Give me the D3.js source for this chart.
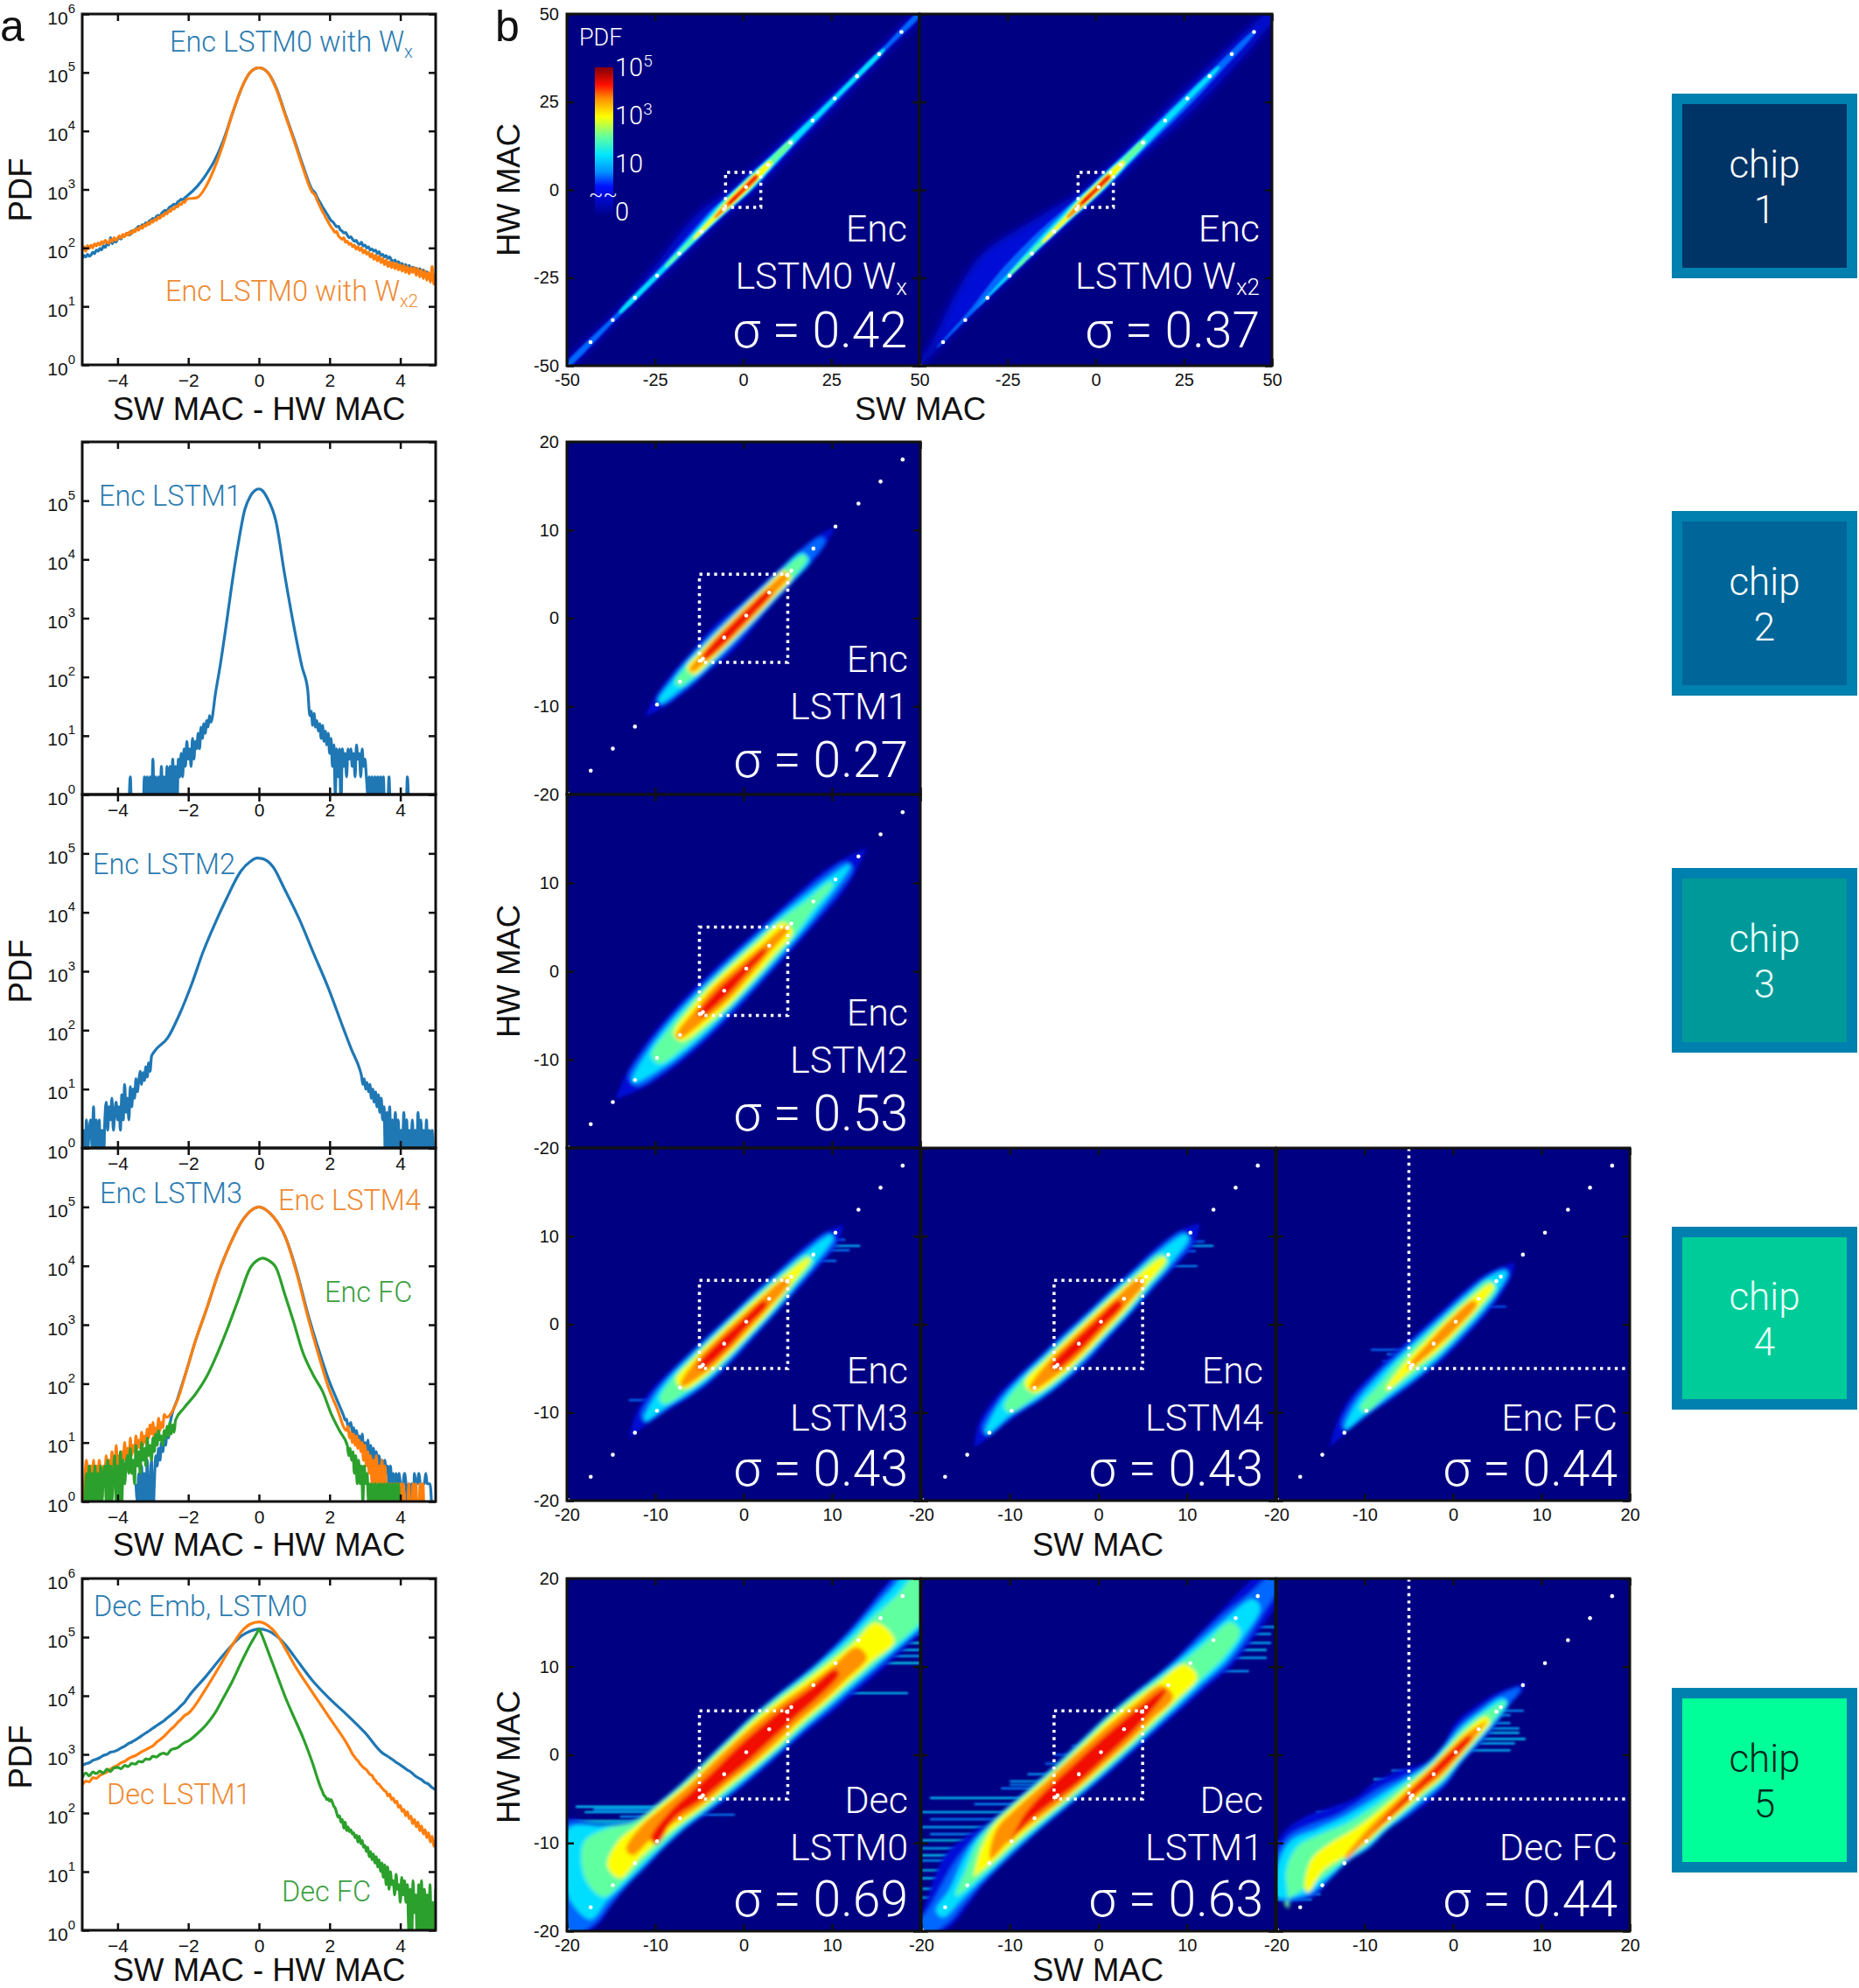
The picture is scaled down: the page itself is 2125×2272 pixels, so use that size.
<!DOCTYPE html>
<html>
  <head>
    <meta charset="utf-8" />
    <title>SW MAC vs HW MAC per chip</title>
    <style>
      body { margin: 0; background: #fff; }
      text { font-family: "Liberation Sans", Arial, sans-serif; }
      .light { font-family: Roboto, "Liberation Sans", sans-serif; font-weight: 300; }
      .tick line { stroke: #111; stroke-width: 2.5; }
      .tick text { fill: #111; }
    </style>
  </head>
  <body>
    <div id="chart"></div>
    <script src="https://d3js.org/d3.v7.min.js"></script>
    <script>
      // ---------- panel a: difference histograms ----------
      // core = [SW-HW, log10 PDF], tails = PDF counts per bin
      const errTicks = [-4, -2, 0, 2, 4];
      const decades = [1, 10, 100, 1e3, 1e4, 1e5, 1e6];

      const wxLeft = [66,74,70,78,72,76,84,80,92,88,98,92,108,102,118,112,150,118,132,126,140,150,142,165,160,172,180,168,195,188,205,220,235,225,250,245,270,260,290,300,320,310,345,360,350,395,420,440,430,480,510,530,560,545,610,640,680,660,720,760];
      const wxCore = [[-1.75,3.05],[-1.5,3.25],[-1.25,3.5],[-1,3.85],[-0.75,4.3],[-0.5,4.72],[-0.25,5],[-0.1,5.07],[0,5.08],[0.1,5.07],[0.25,5],[0.5,4.72],[0.75,4.28],[1,3.85],[1.25,3.4],[1.5,3.0]];
      const wxRight = [850,720,640,570,500,450,400,360,320,290,275,250,230,235,205,195,180,185,165,150,155,140,130,135,120,115,125,108,112,100,104,92,96,88,92,80,86,74,78,70,74,66,70,62,58,62,55,58,52,54,48,52,46,50,44,47,42,45,40,44,38,42,36,39,34,36,30,33,28];

      const wx2Left = [92,105,88,110,98,112,100,118,108,122,112,128,118,135,125,120,140,128,150,135,145,160,148,170,155,180,165,190,175,200,190,215,200,235,215,250,235,270,250,290,275,310,295,340,320,365,350,400,380,440,420,480,460,520,500,570,550,620,600,680];
      const wx2Core = [[-1.75,2.86],[-1.5,3.05],[-1.25,3.38],[-1,3.8],[-0.75,4.3],[-0.5,4.72],[-0.25,5],[-0.1,5.07],[0,5.08],[0.1,5.07],[0.25,5],[0.5,4.7],[0.75,4.26],[1,3.82],[1.25,3.36],[1.5,2.96]];
      const wx2Right = [780,650,560,480,420,370,320,285,250,225,205,185,190,160,150,140,150,125,130,115,120,105,112,95,105,90,100,82,92,78,85,70,80,64,75,60,72,56,66,52,62,48,58,46,56,44,54,42,52,40,50,38,48,36,46,38,46,34,44,32,42,30,40,28,38,26,48,24,36];

      const lstm1Left = [0,2,0,0,0,0,0,0,0,0,0,2,0,2,1,2,0,4,0,2,1,2,0,3,0,2,0,3,1,3,0,4,1,3,0,4,2,5,2,6,3,8,4,6,3,9,4,8,6,11,6,14,9,16,11,18,14,22,17];
      const lstm1Core = [[-1.23,1.72],[-1.09,2.22],[-0.92,2.91],[-0.76,3.6],[-0.59,4.25],[-0.4,4.85],[-0.25,5.07],[-0.12,5.17],[0,5.2],[0.1,5.17],[0.23,5.05],[0.48,4.65],[0.72,3.77],[0.97,2.92],[1.22,2.17],[1.38,1.78]];
      const lstm1Right = [22,26,15,24,14,18,12,16,9,15,8,12,7,11,5,9,3,7,1,6,2,6,0,6,3,5,2,6,4,6,3,5,2,7,4,5,2,6,3,4,2,1,2,0,2,1,2,0,2,0,2,0,2,0,0,0,2,0,0,0,0,0,0,0,0,0,0,0,0,2,0];

      const lstm2Left = [1,2,0,3,1,2,3,1,5,0,3,1,3,0,2,0,3,6,2,5,3,7,2,4,6,3,5,2,8,3,12,4,7,3,11,5,10,7,15,9,14,20,12,19,14,24,16,28,20,36];
      const lstm2Core = [[-2.98,1.62],[-2.57,1.88],[-2.24,2.28],[-1.91,2.77],[-1.58,3.33],[-1.25,3.8],[-0.92,4.23],[-0.51,4.7],[-0.25,4.86],[-0.05,4.92],[0.1,4.91],[0.4,4.77],[0.72,4.4],[1.13,3.9],[1.55,3.3],[1.96,2.72],[2.37,2.06],[2.62,1.67],[2.86,1.32]];
      const lstm2Right = [17,12,15,10,13,9,12,7,10,6,9,5,8,4,7,3,5,0,4,1,5,0,3,1,4,0,3,1,2,1,4,0,3,0,2,1,3,1,2,0,4,1,3,1,2,0,3,0,2,0,2,0,0,2,0];

      const lstm3Left = [2,1,3,1,4,0,3,1,5,0,2,5,0,2,6,4,8,5,10,7,13,9,16,12,20];
      const lstm3Core = [[-2.3,1.75],[-2.05,2.22],[-1.8,2.72],[-1.48,3.27],[-1.15,3.87],[-0.82,4.36],[-0.49,4.75],[-0.2,4.95],[0,5],[0.2,4.95],[0.41,4.83],[0.74,4.5],[1.07,3.9],[1.39,3.17],[1.72,2.52],[1.97,2.07],[2.21,1.72]];
      const lstm3Right = [28,24,25,18,20,22,15,18,12,16,11,13,9,14,8,10,7,11,6,9,5,8,4,7,3,6,4,5,3,5,3,4,2,4,2,3,2,3,2,3,2,1,2,3,2,1,2,0,2,0,3,2,2,3,2,1,2,2,3,2,2,2,1];

      const lstm4Left = [2,1,3,5,2,1,4,2,5,1,4,2,5,3,2,4,3,6,2,5,3,7,4,3,9,4,6,3,7,5,10,5,8,4,12,6,9,7,13,8,11,8,15,9,13,10,17,12,20,14,22,12,18,14,26,16,22,18,30];
      const lstm4Core = [[-2.62,1.43],[-2.3,1.73],[-2.05,2.22],[-1.8,2.72],[-1.48,3.27],[-1.15,3.87],[-0.82,4.36],[-0.49,4.75],[-0.2,4.95],[0,5],[0.2,4.95],[0.41,4.83],[0.74,4.5],[1.07,3.87],[1.39,3.12],[1.72,2.42],[1.97,1.93],[2.21,1.58]];
      const lstm4Right = [16,19,12,15,10,14,9,13,8,11,7,10,5,9,4,7,3,6,2,5,2,6,2,4,2,5,2,4,2,1,2,1,2,0,2,0,2,1,2,0,2,1,0,0,2,0,0,2,1,2,0,0,2,1,2,0,0,0,0,0,0,0,0,0,0,0,2,0,2];

      const encFcLeft = [1,0,1,3,1,4,1,3,1,4,1,3,1,4,1,3,4,1,5,1,4,1,3,6,1,4,1,7,1,5,2,4,6,3,8,3,5,2,9,4,7,3,10,5,8,4,12,6,9,5,12,7,14,9,16,11,13,9,16,12,19,13,22,14,20,15,24];
      const encFcCore = [[-2.13,1.58],[-1.8,1.82],[-1.48,2.12],[-1.15,2.55],[-0.9,2.92],[-0.57,3.45],[-0.25,3.96],[0,4.11],[0.1,4.13],[0.25,4.1],[0.49,3.96],[0.74,3.5],[0.98,3.05],[1.23,2.55],[1.56,2.12],[1.8,1.87],[2.05,1.48],[2.3,1.18]];
      const encFcRight = [9,6,8,5,7,3,6,2,5,2,4,1,4,2,3,1,2,1,2,1,2,1,2,1,2,1,2,1,2,1,2,1,2,1,2,1,2,1,0];

      const decEmbLeft = [650,690,720,790,830,880,960,1000,1090,1120,1180,1290,1380,1520,1620,1760,1920,2110,2320,2530,2800,3080,3380,3700,4150,4650,5200,5900,6800,7800];
      const decEmbCore = [[-2,3.98],[-1.5,4.33],[-1,4.7],[-0.75,4.87],[-0.5,5.02],[-0.25,5.1],[0,5.14],[0.25,5.11],[0.5,5.02],[0.75,4.87],[1,4.67],[1.5,4.27],[2,3.95],[2.5,3.67],[3,3.37],[3.5,3.02]];
      const decEmbRight = [960,880,800,720,660,600,540,500,440,400,370,330,310,270,250];

      const decLstm1Left = [300,350,340,400,390,440,470,500,560,610,650,720,760,840,900,950,1030,1120,1200,1300,1400,1600,1780,2000,2300,2650,3000,3500,4000,4600];
      const decLstm1Core = [[-2,3.7],[-1.5,4.12],[-1,4.62],[-0.75,4.87],[-0.5,5.09],[-0.25,5.22],[0,5.26],[0.25,5.2],[0.5,5.05],[0.75,4.8],[1,4.53],[1.5,4.07],[2,3.62],[2.5,3.17]];
      const decLstm1Right = [1150,1000,920,830,780,700,650,600,570,540,490,450,440,380,360,320,310,280,260,240,230,195,210,170,180,150,160,125,135,107,115,90,105,80,88,66,78,58,70,50,60,44,52,38,46,32,40,27,34,22];

      const decFcLeft = [400,480,430,500,470,520,480,560,510,590,600,570,650,620,700,680,760,740,840,820,930,900,1000,1050,1000,1180,1250,1300,1450,1600];
      const decFcCore = [[-2,3.23],[-1.75,3.35],[-1.5,3.5],[-1.25,3.7],[-1,3.97],[-0.75,4.25],[-0.5,4.57],[-0.25,4.87],[-0.05,5.08],[0,5.14],[0.05,5.08],[0.25,4.77],[0.5,4.37],[0.75,3.97],[1,3.62],[1.25,3.28],[1.5,2.88],[1.75,2.43]];
      const decFcRight = [230,200,190,170,175,160,170,150,130,120,100,85,90,70,78,55,70,50,58,48,52,44,46,38,42,32,40,30,34,26,28,22,26,18,22,16,20,14,18,12,16,10,14,8,13,6,12,5,10,6,7,4,9,5,6,3,8,4,7,3,6,1,5,0,7,2,4,0,6,1,7,0,5,1,4,0,6,1,3,0,5];

      // ---------- panel b: contour tables ----------
      // each row: [position on the diagonal, then distance from it for seven PDF levels]
      const _ = null;
      const levels = [-0.35, 0.45, 1.3, 2.1, 2.95, 3.7, 4.35]; // log10 PDF

      const encWxUpper = [[-51,.4,.25,_,_,_,_,_],[-35,.7,.45,.2,_,_,_,_],[-22,1.8,.8,.4,.1,_,_,_],[-14,2.9,1.3,.7,.35,.1,_,_],[-8,3,1.7,1,.6,.35,.15,_],[-4,2.2,1.5,1.1,.8,.55,.35,.15],[0,1.8,1.3,1,.75,.55,.35,.15],[4,1.6,1.2,.9,.65,.45,.25,.1],[8,1.5,1,.7,.45,.2,_,_],[14,1.3,.8,.5,.25,_,_,_],[25,1.1,.6,.3,_,_,_,_],[40,.7,.4,.15,_,_,_,_],[51,.4,.25,_,_,_,_,_]];
      const encWxLower = [[-51,.4,.25,_,_,_,_,_],[-35,.6,.4,.1,_,_,_,_],[-22,.9,.55,.3,.05,_,_,_],[-14,1,.65,.4,.2,.05,_,_],[-8,1.1,.8,.55,.4,.2,.05,_],[-4,1.4,1,.75,.55,.4,.25,.1],[0,1.7,1.25,.95,.7,.5,.35,.15],[4,1.7,1.25,.9,.65,.45,.25,.1],[8,1.6,1.1,.7,.45,.2,_,_],[14,1.4,.9,.5,.25,_,_,_],[25,1.2,.7,.3,_,_,_,_],[40,.8,.4,.15,_,_,_,_],[51,.4,.25,_,_,_,_,_]];
      const encWx2Upper = [[-51,.2,_,_,_,_,_,_],[-45,1.5,.1,_,_,_,_,_],[-35,5,.8,.05,_,_,_,_],[-25,7,2,.4,.1,_,_,_],[-15,5,2.2,.9,.4,.1,_,_],[-8,3.3,1.8,1,.6,.35,.15,_],[-4,2.2,1.5,1.05,.75,.55,.35,.15],[0,1.7,1.25,.95,.7,.5,.33,.15],[4,1.6,1.2,.9,.65,.45,.25,.1],[8,1.5,1.05,.7,.45,.2,_,_],[14,1.5,.95,.55,.25,_,_,_],[25,1.6,.9,.4,_,_,_,_],[35,1.5,.6,.1,_,_,_,_],[45,1.2,.15,_,_,_,_,_],[51,.6,_,_,_,_,_,_]];
      const encWx2Lower = [[-51,.2,_,_,_,_,_,_],[-45,.1,-.05,_,_,_,_,_],[-35,.15,.05,-.05,_,_,_,_],[-25,.4,.25,.1,0,_,_,_],[-15,.7,.5,.3,.15,.05,_,_],[-8,1,.75,.5,.35,.2,.05,_],[-4,1.3,1,.75,.55,.4,.25,.1],[0,1.6,1.2,.9,.65,.5,.35,.15],[4,1.7,1.25,.9,.65,.45,.25,.1],[8,1.7,1.15,.75,.45,.2,_,_],[14,1.9,1.2,.6,.25,_,_,_],[25,2.4,1.3,.45,_,_,_,_],[35,2.2,.9,.1,_,_,_,_],[45,1.6,.2,_,_,_,_,_],[51,.6,_,_,_,_,_,_]];

      const encL1Band = [[-11.2,0,_,_,_,_,_,_],[-9.5,.45,.25,.1,_,_,_,_],[-7.5,.75,.55,.4,.2,_,_,_],[-6,.85,.7,.55,.4,.3,.1,_],[-4.5,.9,.75,.6,.5,.4,.25,.1],[-3,1.05,.78,.62,.52,.44,.35,.22],[-1,1.05,.75,.6,.52,.45,.36,.22],[1,.85,.68,.58,.5,.43,.34,.2],[3,.75,.62,.52,.46,.38,.28,.12],[5,.68,.56,.48,.4,.28,.12,_],[7,.62,.48,.34,.15,_,_,_],[9,.38,.2,_,_,_,_,_],[10.4,0,_,_,_,_,_,_]];
      const encL2Band = [[-14.5,0,_,_,_,_,_,_],[-12.5,.7,.4,.1,_,_,_,_],[-10,1.2,.95,.7,.35,_,_,_],[-7.5,1.45,1.2,1,.75,.32,.12,_],[-5,1.55,1.3,1.1,.9,.68,.4,.1],[-2.5,1.55,1.3,1.1,.95,.78,.55,.28],[0,1.45,1.25,1.05,.9,.72,.45,.2],[2.5,1.35,1.15,.95,.8,.6,.3,.06],[5,1.25,1.05,.85,.65,.4,.1,_],[7.5,1.15,.9,.65,.35,_,_,_],[10,1,.7,.4,.1,_,_,_],[12,.6,.3,.05,_,_,_,_],[14,0,_,_,_,_,_,_]];

      const encL3Upper = [[-13,0,_,_,_,_,_,_],[-11,.9,.5,.2,_,_,_,_],[-9,1.25,1,.75,.4,_,_,_],[-7,1.3,1.1,.95,.75,.5,.1,_],[-5,1.25,1.1,.95,.8,.65,.45,.15],[-2.5,1.2,1.05,.9,.78,.65,.48,.28],[0,1.1,.98,.85,.72,.6,.42,.22],[2.5,1.05,.92,.78,.65,.52,.35,.12],[5,.95,.8,.65,.5,.35,.15,_],[7.5,.85,.65,.45,.25,.05,_,_],[10,.5,.3,.1,_,_,_,_],[11.3,0,_,_,_,_,_,_]];
      const encL3Lower = [[-13,0,_,_,_,_,_,_],[-11,.2,.05,-.05,_,_,_,_],[-9,.55,.4,.25,.05,_,_,_],[-7,.95,.8,.65,.45,.25,.05,_],[-5,1.2,1.05,.9,.72,.58,.4,.1],[-2.5,1.25,1.08,.92,.78,.65,.48,.28],[0,1.15,.98,.85,.72,.6,.42,.22],[2.5,1.05,.92,.78,.65,.52,.35,.12],[5,.95,.78,.62,.48,.33,.15,_],[7.5,.85,.65,.45,.25,.05,_,_],[10,.6,.35,.1,_,_,_,_],[11.3,0,_,_,_,_,_,_]];
      const encL4Upper = [[-14,0,_,_,_,_,_,_],[-12.5,.9,.5,.2,_,_,_,_],[-10,1.4,1.1,.9,.5,_,_,_],[-7.5,1.4,1.2,1.05,.85,.6,.2,_],[-5,1.3,1.15,1,.85,.7,.5,.2],[-2.5,1.25,1.1,.95,.8,.68,.5,.3],[0,1.15,1,.88,.75,.62,.45,.25],[2.5,1.1,.95,.82,.68,.55,.38,.15],[5,1,.85,.7,.55,.4,.2,_],[7.5,.95,.75,.55,.35,.1,_,_],[10,.6,.4,.15,_,_,_,_],[11.5,0,_,_,_,_,_,_]];
      const encL4Lower = [[-14,0,_,_,_,_,_,_],[-12.5,.2,.05,-.05,_,_,_,_],[-10,.45,.3,.15,0,_,_,_],[-7.5,.9,.8,.65,.45,.2,0,_],[-5,1.2,1.05,.9,.75,.6,.4,.1],[-2.5,1.3,1.1,.95,.8,.68,.5,.3],[0,1.2,1,.88,.75,.62,.45,.25],[2.5,1.1,.95,.82,.68,.55,.38,.15],[5,.95,.8,.65,.5,.35,.15,_],[7.5,.9,.7,.5,.3,.1,_,_],[10,.7,.4,.15,_,_,_,_],[11.5,0,_,_,_,_,_,_]];
      const encFcUpper = [[-14,0,_,_,_,_,_,_],[-12,.9,.5,.2,_,_,_,_],[-10,1.4,1.1,.8,.4,_,_,_],[-7.5,1.5,1.25,1,.6,.1,_,_],[-5,1.45,1.2,1,.75,.42,.1,_],[-2.5,1.3,1.1,.9,.7,.46,.25,_],[0,1.2,1,.82,.65,.46,.3,.08],[2.5,1.1,.9,.72,.55,.36,.15,_],[4.5,.9,.7,.55,.35,.1,_,_],[6,.45,.25,.05,_,_,_,_],[7,0,_,_,_,_,_,_]];
      const encFcLower = [[-14,0,_,_,_,_,_,_],[-12,.1,-.05,-.1,_,_,_,_],[-10,.3,.2,.1,0,_,_,_],[-7.5,.7,.55,.4,.2,0,_,_],[-5,1,.85,.7,.45,.2,.02,_],[-2.5,1.2,1,.85,.65,.46,.25,_],[0,1.2,1,.82,.65,.46,.3,.08],[2.5,1.1,.9,.72,.55,.36,.15,_],[4.5,.85,.65,.5,.3,.1,_,_],[6,.5,.3,.1,_,_,_,_],[7,0,_,_,_,_,_,_]];

      const decL0Upper = [[-20.5,.5,.3,_,_,_,_,_],[-18,2.6,2.4,1.6,_,_,_,_],[-16,4.6,4.4,3.8,1.6,_,_,_],[-14,6.6,6,5.2,3.4,1.1,_,_],[-12,4.2,3.9,3.6,3,1.7,.9,_],[-10,2.6,2.4,2.2,2,1.55,1.2,.3],[-7.5,2.15,2,1.85,1.65,1.4,1.1,.6],[-5,1.95,1.8,1.65,1.45,1.2,.95,.55],[-2.5,1.9,1.75,1.6,1.4,1.15,.9,.5],[0,1.85,1.7,1.55,1.35,1.1,.85,.5],[2.5,1.8,1.65,1.5,1.3,1.05,.75,.4],[5,1.6,1.45,1.3,1.1,.85,.55,.25],[7.5,1.3,1.15,1,.8,.55,.25,0],[10,1.1,.95,.8,.55,.3,0,-.2],[12.5,1.1,.95,.7,.4,.1,-.2,_],[15,1.3,1.1,.8,.4,0,_,_],[17.5,1.6,1.3,.9,.3,_,_,_],[20.5,1.6,1.2,.8,.3,_,_,_]];
      const decL0Lower = [[-20.5,.5,.3,_,_,_,_,_],[-18,1.4,1.1,.6,_,_,_,_],[-16,1.1,.9,.5,.1,_,_,_],[-14,.9,.75,.55,.3,0,_,_],[-12,.9,.75,.55,.3,0,-.4,_],[-10,.85,.7,.55,.35,.05,-.3,.1],[-7.5,.95,.8,.65,.45,.25,0,-.2],[-5,1.35,1.15,.95,.75,.55,.35,.1],[-2.5,1.7,1.5,1.25,1,.75,.5,.25],[0,1.95,1.7,1.45,1.2,.95,.7,.4],[2.5,2.1,1.85,1.6,1.35,1.1,.8,.45],[5,2.3,2,1.7,1.45,1.15,.85,.5],[7.5,2.6,2.25,1.9,1.6,1.3,1,.6],[10,2.8,2.4,2.05,1.7,1.4,1.05,.5],[12.5,3,2.6,2.2,1.85,1.5,1,_],[15,3.1,2.7,2.4,2,1.6,_,_],[17.5,3.2,2.9,2.5,2.1,_,_,_],[20.5,3,2.6,2.2,1.7,_,_,_]];
      const decL1Upper = [[-20.5,.5,.3,_,_,_,_,_],[-18,1.4,.9,.3,_,_,_,_],[-16,2.4,1.5,.7,.1,_,_,_],[-14,3,2,1.4,.8,.1,_,_],[-12,2.8,2.2,1.9,1.5,1,.2,_],[-10,2.4,2.15,1.95,1.75,1.45,1.05,0],[-7.5,2.2,2,1.85,1.65,1.4,1.1,.5],[-5,2,1.85,1.7,1.5,1.25,1,.6],[-2.5,1.9,1.75,1.6,1.4,1.15,.95,.55],[0,1.85,1.7,1.55,1.35,1.1,.85,.5],[2.5,1.8,1.65,1.5,1.3,1.05,.75,.4],[5,1.6,1.45,1.3,1.1,.85,.55,.25],[7.5,1.3,1.15,1,.8,.55,.25,0],[10,1.15,.95,.75,.45,.2,_,_],[12.5,1.2,.95,.6,.25,_,_,_],[15,1.25,.9,.45,.05,_,_,_],[17.5,1.3,.6,.1,_,_,_,_],[20.5,1,.3,_,_,_,_,_]];
      const decL1Lower = [[-20.5,.5,.3,_,_,_,_,_],[-18,1.4,1,.4,_,_,_,_],[-16,1.2,.85,.45,0,_,_,_],[-14,.9,.7,.45,.2,-.1,_,_],[-12,.85,.7,.5,.3,.1,-.1,_],[-10,.9,.75,.55,.35,.15,-.1,0],[-7.5,1,.85,.7,.5,.3,.1,-.1],[-5,1.25,1.05,.9,.7,.5,.35,.1],[-2.5,1.5,1.3,1.1,.9,.7,.5,.3],[0,1.7,1.45,1.25,1.05,.8,.6,.35],[2.5,1.85,1.6,1.35,1.15,.9,.7,.4],[5,2,1.7,1.45,1.2,.95,.7,.35],[7.5,2.15,1.85,1.55,1.25,1,.65,.1],[10,2.3,1.95,1.6,1.25,.9,_,_],[12.5,2.5,2.1,1.7,1.3,_,_,_],[15,2.2,1.8,1.35,.85,_,_,_],[17.5,1.8,1.2,.7,_,_,_,_],[20.5,1,.4,_,_,_,_,_]];
      const decFcUpper = [[-18,2.5,2.3,1.9,.5,_,_,_],[-16,4.5,4,3.4,2.4,.6,_,_],[-14,5.2,4.6,3.9,3,1.6,_,_],[-12,4.9,4,3.2,2.5,1.5,.2,_],[-10,4,3.1,2.5,1.8,1.1,.4,0],[-8,3.1,2.6,2,1.4,.85,.45,.15],[-6,2.9,2.2,1.6,1.1,.7,.42,.2],[-4,2.2,1.5,1.15,.85,.6,.4,.2],[-2,1.15,.95,.8,.62,.48,.35,.2],[0,1.15,1,.85,.65,.5,.35,.2],[2,1.7,1.3,1,.75,.5,.3,.1],[4,1.5,1.1,.8,.55,.25,0,_],[6,1.05,.7,.4,.1,_,_,_],[7.5,.35,.1,_,_,_,_,_],[8.3,0,_,_,_,_,_,_]];
      const decFcLower = [[-18,-1.4,-1.5,-1.6,-.9,_,_,_],[-16,.15,-.05,-.3,-.7,-.3,_,_],[-14,.15,.05,-.1,-.3,-.6,_,_],[-12,.15,.1,0,-.1,-.3,-.1,_],[-10,.6,.5,.35,.2,.05,-.05,0],[-8,.6,.5,.4,.25,.12,0,-.05],[-6,1,.8,.6,.4,.25,.1,0],[-4,1.3,1,.75,.55,.35,.2,.05],[-2,1.35,1.1,.9,.7,.5,.35,.15],[0,1,.85,.7,.55,.42,.3,.15],[2,.95,.75,.6,.45,.32,.2,.05],[4,.8,.6,.45,.3,.15,0,_],[6,.4,.3,.15,0,_,_,_],[7.5,.3,.1,_,_,_,_,_],[8.3,0,_,_,_,_,_,_]];

      const growEnc = [1.2, 1.2, 1.25, 1.3, 1.35, 1.4, 1.5];
      const growDec = [1, 1.02, 1.1, 1.2, 1.3, 1.45, 1.6];
      const growWide = [1, 1, 1.25, 1.35, 1.45, 1.55, 1.7];

      // horizontal streaks: [HW MAC, SW from, SW to, log10 PDF]
      const encL3Streaks = [[8.9,9.5,13.2,1],[8.4,9,12,.6],[9.6,9.5,11.5,.5],[7.2,8,10.5,.6],[-8.6,-13,-9,.5]];
      const encL4Streaks = [[8.9,9,13,1],[9.4,10,12,.5],[6.6,8,11.2,.7],[8.3,9,11,.5]];
      const encFcStreaks = [[-2.9,-9.3,-5,.5],[-3.4,-7.5,-5,.7],[-4.2,-8,-5,.4],[2,4,6,.4]];
      const decL0Streaks = [[-5.9,-19,-9,1.3],[-6.2,-17,-10,.9],[-6.5,-18,-10,1.2],[-7,-14,-9,.8],[-7.5,-20,-10,1.5],[-7.8,-20,-11,1.2],[-6.8,-7,-1,.6],[7,11,18.6,1.2],[10.4,15,20,1.4],[11.2,16,20,1],[11.9,16,20,1.2],[12.7,16,20,1.5],[13.7,17,20,1.2],[14.5,17,20,1],[-10.4,-20,-18,1.2],[-12.5,-20,-17,1.2],[-15,-20,-17,1.2],[-17,-20,-17,1]];
      const decL1Streaks = [[-2.2,-8,-4,.8],[-3,-10,-4,1],[-3.4,-10,-5,.7],[-3.8,-11,-5,.6],[-4.9,-19,-8,1.2],[-5.6,-14,-8,.7],[-6.5,-20,-9,1.2],[-7.3,-19,-10,.6],[-8.2,-20,-10,1],[-9,-19,-11,.7],[-9.7,-20,-12,1.4],[-10.6,-20,-13,1],[-11.4,-20,-13,1.3],[-12,-20,-13,.8],[-13.1,-20,-14,1.3],[-14,-20,-14,1.3],[-15.2,-20,-16,1.1],[-16.2,-20,-17,1],[11,14,19,1],[11.9,14,19,1.2],[12.7,15,19.5,1],[13.7,15,19.5,1],[14.5,16,20,.9],[9.5,13,17,.8],[-1,-6,-4,.5],[0,-5,-3,.4],[1,-3,-1,.4]];
      const decFcStreaks = [[-9.9,-20,-16,1.3],[-10.3,-20,-17,.9],[-10.8,-20,-16,1.2],[-11.5,-20,-17,.8],[-12.4,-20,-16,1.2],[-13.4,-20,-16,1.2],[-14.2,-20,-16,1],[-15,-20,-15,1.4],[-15.8,-20,-15,1],[-16.4,-20,-16,1.2],[-6.5,-15.5,-8,1],[-6,-13,-8,.7],[-7,-14,-9,.8],[-1.8,-7,-4,.8],[-2.8,-9,-3,1.2],[-3.5,-9,-3,1],[-4.1,-8,-3,1],[.5,2,6.5,1.1],[1.3,3,7,1.1],[1.8,3,8.2,1.3],[2.5,4,7.5,1.2],[3,4,7.5,1],[3.6,4,6.5,.9],[4.5,5,6.5,.8],[5,5,8,.7]];

      // white calibration dots on the diagonal
      const dots50 = [-49.9,-43.3,-37,-30.7,-24.4,-18.1,-11.8,-5.5,.8,7.1,13.4,19.7,26,32.3,38.6,44.9];
      const dots20 = [-19.9,-17.3,-14.8,-12.3,-9.8,-7.2,-4.8,-4.6,-2.2,.3,2.9,4.9,5.4,7.9,10.4,13,15.5,18];

      const pdfStops = [-1.2, 0.05, 0.64, 1.36, 2.1, 2.96, 3.7, 4.27, 4.9];
      const pdfColors = ["#000082", "#0010ff", "#0090ff", "#00e5ff", "#60ffa0", "#ffff00", "#ff9000", "#ff1000", "#900000"];

      const chipNames = ["1", "2", "3", "4", "5"];
      const chipFills = ["#003366", "#006699", "#009999", "#00cc99", "#00ff99"];
      const chipInk = ["#fff", "#fff", "#e8fffa", "#e8fffa", "#06281c"];

      const blue = "#1f77b4", orange = "#ff7f0e", green = "#2ca02c";
      const blueText = "#2b7bb0", orangeText = "#ee8a33", greenText = "#3c9f40";

      function bins(from, step, values) {
        return values.map((v, i) => [from + i * step, v]);
      }
      function core(rows) {
        return rows.map((r) => [r[0], Math.pow(10, r[1])]);
      }
      function curve(lf, ls, left, mid, rf, rs, right) {
        return bins(lf, ls, left).concat(core(mid), bins(rf, rs, right));
      }

      const linePanels = [
        { top: 16, bottom: 417, labelTop: true,
          lines: [
            { color: blue, pts: curve(-5, 0.05, wxLeft, wxCore, 1.6, 0.05, wxRight) },
            { color: orange, pts: curve(-5, 0.05, wx2Left, wx2Core, 1.6, 0.05, wx2Right) },
          ],
          notes: [
            { x: 194, y: 59, color: blueText, text: "Enc LSTM0 with W", sub: "x" },
            { x: 189, y: 344, color: orangeText, text: "Enc LSTM0 with W", sub: "x2" },
          ] },
        { top: 505, bottom: 908, labelTop: false,
          lines: [{ color: blue, pts: curve(-3.68, 0.04, lstm1Left, lstm1Core, 1.44, 0.04, lstm1Right) }],
          notes: [{ x: 113, y: 578, color: blueText, text: "Enc LSTM1" }] },
        { top: 908, bottom: 1312, labelTop: false,
          lines: [{ color: blue, pts: curve(-5, 0.04, lstm2Left, lstm2Core, 2.9, 0.04, lstm2Right) }],
          notes: [{ x: 106, y: 999, color: blueText, text: "Enc LSTM2" }] },
        { top: 1312, bottom: 1716, labelTop: false,
          lines: [
            { color: blue, pts: curve(-3.48, 0.04, lstm3Left, lstm3Core, 2.4, 0.04, lstm3Right) },
            { color: orange, pts: curve(-5, 0.04, lstm4Left, lstm4Core, 2.48, 0.04, lstm4Right) },
            { color: green, pts: curve(-5, 0.04, encFcLeft, encFcCore, 2.5, 0.04, encFcRight) },
          ],
          notes: [
            { x: 114, y: 1375, color: blueText, text: "Enc LSTM3" },
            { x: 318, y: 1383, color: orangeText, text: "Enc LSTM4" },
            { x: 371, y: 1488, color: greenText, text: "Enc FC" },
          ] },
        { top: 1804, bottom: 2206, labelTop: true,
          lines: [
            { color: blue, pts: curve(-5, 0.1, decEmbLeft, decEmbCore, 3.6, 0.1, decEmbRight) },
            { color: orange, pts: curve(-5, 0.1, decLstm1Left, decLstm1Core, 2.6, 0.05, decLstm1Right) },
            { color: green, pts: curve(-5, 0.1, decFcLeft, decFcCore, 1.8, 0.04, decFcRight) },
          ],
          notes: [
            { x: 107, y: 1847, color: blueText, text: "Dec Emb, LSTM0" },
            { x: 122, y: 2062, color: orangeText, text: "Dec LSTM1" },
            { x: 322, y: 2173, color: greenText, text: "Dec FC" },
          ] },
      ];

      const heatPanels = [
        { x0: 648, y0: 16, w: 403, h: 402, extent: 50, grow: growWide, shift: -2, upper: encWxUpper, lower: encWxLower, name: ["Enc", ["LSTM0 W", "x"]], sigma: "0.42", box: true, yLabels: [-50, -25, 0, 25, 50], xLabels: [-50, -25, 0, 25] },
        { x0: 1051, y0: 16, w: 403, h: 402, extent: 50, grow: growWide, shift: -2, upper: encWx2Upper, lower: encWx2Lower, name: ["Enc", ["LSTM0 W", "x2"]], sigma: "0.37", box: true, yLabels: [], xLabels: [-50, -25, 0, 25, 50], firstLabel: "50" },
        { x0: 648, y0: 505, w: 404, h: 403, extent: 20, grow: growEnc, upper: encL1Band, lower: encL1Band, name: ["Enc", ["LSTM1"]], sigma: "0.27", box: true, yLabels: [-20, -10, 0, 10, 20], xLabels: [] },
        { x0: 648, y0: 908, w: 404, h: 404, extent: 20, grow: growEnc, upper: encL2Band, lower: encL2Band, name: ["Enc", ["LSTM2"]], sigma: "0.53", box: true, yLabels: [-20, -10, 0, 10], xLabels: [] },
        { x0: 648, y0: 1312, w: 404, h: 403, extent: 20, grow: growEnc, shift: 6, upper: encL3Upper, lower: encL3Lower, streaks: encL3Streaks, name: ["Enc", ["LSTM3"]], sigma: "0.43", box: true, yLabels: [-20, -10, 0, 10], xLabels: [-20, -10, 0, 10] },
        { x0: 1053, y0: 1312, w: 405, h: 403, extent: 20, grow: growEnc, shift: 6, upper: encL4Upper, lower: encL4Lower, streaks: encL4Streaks, name: ["Enc", ["LSTM4"]], sigma: "0.43", box: true, yLabels: [], xLabels: [-20, -10, 0, 10] },
        { x0: 1459, y0: 1312, w: 404, h: 403, extent: 20, grow: growEnc, shift: 6, upper: encFcUpper, lower: encFcLower, streaks: encFcStreaks, name: ["Enc FC"], sigma: "0.44", box: false, yLabels: [], xLabels: [-20, -10, 0, 10, 20] },
        { x0: 648, y0: 1804, w: 404, h: 403, extent: 20, grow: growDec, shift: 5, upper: decL0Upper, lower: decL0Lower, streaks: decL0Streaks, name: ["Dec", ["LSTM0"]], sigma: "0.69", box: true, yLabels: [-20, -10, 0, 10, 20], xLabels: [-20, -10, 0, 10] },
        { x0: 1053, y0: 1804, w: 405, h: 403, extent: 20, grow: growDec, shift: 5, upper: decL1Upper, lower: decL1Lower, streaks: decL1Streaks, name: ["Dec", ["LSTM1"]], sigma: "0.63", box: true, yLabels: [], xLabels: [-20, -10, 0, 10] },
        { x0: 1459, y0: 1804, w: 404, h: 403, extent: 20, grow: growDec, shift: 5, upper: decFcUpper, lower: decFcLower, streaks: decFcStreaks, name: ["Dec FC"], sigma: "0.44", box: false, yLabels: [], xLabels: [-20, -10, 0, 10, 20] },
      ];

      const chips = [
        { top: 107, bottom: 318 },
        { top: 584, bottom: 795 },
        { top: 992, bottom: 1203 },
        { top: 1402, bottom: 1611 },
        { top: 1929, bottom: 2140 },
      ];

      const svg = d3.select("#chart").append("svg").attr("width", 2125).attr("height", 2272);
      const defs = svg.append("defs");
      defs.append("filter").attr("id", "soft").append("feGaussianBlur").attr("stdDeviation", 2.2);
      defs.append("filter").attr("id", "softThin").append("feGaussianBlur").attr("stdDeviation", 0.9);
      defs.append("filter").attr("id", "softWide")
        .attr("x", "-30%").attr("y", "-30%").attr("width", "160%").attr("height", "160%")
        .append("feGaussianBlur").attr("stdDeviation", 5);

      const pdfColor = d3.scaleLinear().domain(pdfStops).range(pdfColors).clamp(true);

      // ----- left column -----
      const xErr = d3.scaleLinear().domain([-5, 5]).range([94, 498]);
      linePanels.forEach((p, i) => {
        const y = d3.scaleLog().domain([1, 1e6]).range([p.bottom, p.top]);
        const g = svg.append("g");
        const clipId = "lineClip" + i;
        defs.append("clipPath").attr("id", clipId).append("rect")
          .attr("x", 94).attr("y", p.top).attr("width", 404).attr("height", p.bottom - p.top);

        const line = d3.line()
          .x((d) => xErr(d[0]))
          .y((d) => y(Math.max(d[1], 0.5)))
          .curve(d3.curveMonotoneX);
        const plot = g.append("g").attr("clip-path", "url(#" + clipId + ")");
        p.lines.forEach((l) => {
          plot.append("path").datum(l.pts).attr("d", line)
            .attr("fill", "none").attr("stroke", l.color).attr("stroke-width", 3.2);
        });

        g.append("g").attr("transform", "translate(0," + p.bottom + ")")
          .call(d3.axisBottom(xErr).tickValues(errTicks).tickSize(-8).tickPadding(10))
          .call((a) => a.select(".domain").remove())
          .selectAll("text").attr("font-size", 21);
        g.append("g").attr("transform", "translate(0," + p.top + ")")
          .call(d3.axisTop(xErr).tickValues(errTicks).tickSize(-8).tickFormat(""))
          .call((a) => a.select(".domain").remove());
        g.append("g").attr("transform", "translate(498,0)")
          .call(d3.axisRight(y).tickValues(decades).tickSize(-8).tickFormat(""))
          .call((a) => a.select(".domain").remove());
        const yAxis = g.append("g").attr("transform", "translate(94,0)")
          .call(d3.axisLeft(y).tickValues(decades).tickSize(-8).tickFormat(""))
          .call((a) => a.select(".domain").remove());
        yAxis.selectAll(".tick").each(function (d) {
          const power = Math.round(Math.log10(d));
          if (power === 6 && !p.labelTop) return;
          const t = d3.select(this).select("text").attr("x", -8).attr("dy", 0).attr("y", 11)
            .attr("text-anchor", "end").attr("font-size", 21);
          t.append("tspan").text("10");
          t.append("tspan").attr("dy", -13).attr("font-size", 15).text(power);
        });

        g.append("rect").attr("x", 94).attr("y", p.top).attr("width", 404).attr("height", p.bottom - p.top)
          .attr("fill", "none").attr("stroke", "#111").attr("stroke-width", 3);

        p.notes.forEach((n) => {
          const t = g.append("text").attr("class", "light").attr("x", n.x).attr("y", n.y)
            .attr("fill", n.color).attr("font-size", 32.5).text(n.text);
          if (n.sub) t.append("tspan").attr("dy", 7).attr("font-size", 20).text(n.sub);
        });
      });

      // ----- heat maps -----
      function bandOutline(upper, lower, k, grow) {
        const f = grow[k];
        const up = upper.filter((r) => r[k + 1] !== null).map((r) => [r[0] - r[k + 1] * f, r[0] + r[k + 1] * f]);
        const lo = lower.filter((r) => r[k + 1] !== null).map((r) => [r[0] + r[k + 1] * f, r[0] - r[k + 1] * f]);
        return up.concat(lo.reverse());
      }

      heatPanels.forEach((p, i) => {
        const x = d3.scaleLinear().domain([-p.extent, p.extent]).range([p.x0, p.x0 + p.w]);
        const y = d3.scaleLinear().domain([-p.extent, p.extent]).range([p.y0 + p.h, p.y0]);
        const step = p.extent === 50 ? 25 : 10;
        const ticks = d3.range(-p.extent, p.extent + 1, step);
        const g = svg.append("g");
        const clipId = "heatClip" + i;
        defs.append("clipPath").attr("id", clipId).append("rect")
          .attr("x", p.x0).attr("y", p.y0).attr("width", p.w).attr("height", p.h);

        const plot = g.append("g").attr("clip-path", "url(#" + clipId + ")");
        plot.append("rect").attr("x", p.x0).attr("y", p.y0).attr("width", p.w).attr("height", p.h)
          .attr("fill", pdfColors[0]);

        const wide = plot.append("g").attr("filter", "url(#softWide)");
        // streaks go under the band so it keeps its edge, and stay crisper than it
        const streaks = plot.append("g").attr("filter", "url(#softThin)");
        const soft = plot.append("g").attr("filter", p.extent === 50 ? "url(#softThin)" : "url(#soft)");
        const outline = d3.line().x((d) => x(d[0])).y((d) => y(d[1]))
          .curve(d3.curveCatmullRomClosed.alpha(0.5));
        (p.streaks || []).forEach((s) => {
          streaks.append("line").attr("x1", x(s[1])).attr("x2", x(s[2])).attr("y1", y(s[0])).attr("y2", y(s[0]))
            .attr("stroke", pdfColor(s[3])).attr("stroke-width", 2.2);
        });
        levels.forEach((lv, k) => {
          const pts = bandOutline(p.upper, p.lower, k, p.grow);
          if (pts.length < 3) return;
          // the faint outer level of the ±50 maps is a diffuse haze
          const target = p.extent === 50 && k === 0 ? wide : soft;
          target.append("path").datum(pts).attr("d", outline).attr("fill", pdfColor(lv));
        });

        // dotted ±5 window
        const windowPath = p.box
          ? [[-5, -5], [-5, 5], [5, 5], [5, -5], [-5, -5]]
          : [[-5, p.extent], [-5, -5], [p.extent, -5]];
        plot.append("path").datum(windowPath)
          .attr("d", d3.line().x((d) => x(d[0])).y((d) => y(d[1])))
          .attr("fill", "none").attr("stroke", "#fff").attr("stroke-width", 3.5).attr("stroke-dasharray", "3.4 5");

        const dots = p.extent === 50 ? dots50 : dots20;
        plot.selectAll("circle").data(dots).join("circle")
          .attr("cx", (d) => x(d)).attr("cy", (d) => y(d)).attr("r", 2.3).attr("fill", "#fff");

        // axes, ticks point inwards on all four sides
        const xBottom = g.append("g").attr("transform", "translate(0," + (p.y0 + p.h) + ")")
          .call(d3.axisBottom(x).tickValues(ticks).tickSize(-8).tickPadding(9).tickFormat((d) => String(d)))
          .call((a) => a.select(".domain").remove());
        xBottom.selectAll("text").attr("font-size", 20)
          .style("display", (d) => (p.xLabels.includes(d) ? null : "none"))
          .text((d) => (p.firstLabel && d === -p.extent ? p.firstLabel : d));
        g.append("g").attr("transform", "translate(0," + p.y0 + ")")
          .call(d3.axisTop(x).tickValues(ticks).tickSize(-8).tickFormat(""))
          .call((a) => a.select(".domain").remove());
        const yLeft = g.append("g").attr("transform", "translate(" + p.x0 + ",0)")
          .call(d3.axisLeft(y).tickValues(ticks).tickSize(-8).tickPadding(9).tickFormat((d) => String(d)))
          .call((a) => a.select(".domain").remove());
        yLeft.selectAll("text").attr("font-size", 20)
          .style("display", (d) => (p.yLabels.includes(d) ? null : "none"));
        g.append("g").attr("transform", "translate(" + (p.x0 + p.w) + ",0)")
          .call(d3.axisRight(y).tickValues(ticks).tickSize(-8).tickFormat(""))
          .call((a) => a.select(".domain").remove());

        g.append("rect").attr("x", p.x0).attr("y", p.y0).attr("width", p.w).attr("height", p.h)
          .attr("fill", "none").attr("stroke", "#111").attr("stroke-width", 3);

        // panel name + sigma, right aligned in the lower corner
        const right = p.x0 + p.w - 14;
        const bottom = p.y0 + p.h;
        const shift = p.shift || 0;
        const baselines = p.name.length === 2 ? [bottom - 140 + shift, bottom - 86 + shift] : [bottom - 86 + shift];
        p.name.forEach((n, k) => {
          const parts = Array.isArray(n) ? n : [n];
          const t = g.append("text").attr("class", "light").attr("x", right).attr("y", baselines[k])
            .attr("text-anchor", "end").attr("fill", "#fff").attr("font-size", 43).text(parts[0]);
          if (parts[1]) t.append("tspan").attr("dy", 7).attr("font-size", 26).text(parts[1]);
        });
        g.append("text").attr("class", "light").attr("x", right).attr("y", bottom - 20 + shift / 2)
          .attr("text-anchor", "end").attr("fill", "#fff").attr("font-size", 57)
          .text("σ = " + p.sigma);
      });

      // ----- colour bar in the first map -----
      const barY = d3.scaleLinear().domain([1, 3]).range([187, 132]);
      const grad = defs.append("linearGradient").attr("id", "pdfBar")
        .attr("x1", 0).attr("x2", 0).attr("y1", 0).attr("y2", 1);
      const barBottom = barY(pdfStops[0]), barTop = barY(5);
      pdfStops.slice().reverse().forEach((s, k) => {
        grad.append("stop")
          .attr("offset", Math.max(0, (barY(s) - barTop) / (barBottom - barTop)))
          .attr("stop-color", pdfColors[pdfColors.length - 1 - k]);
      });
      svg.append("rect").attr("x", 680).attr("y", barTop).attr("width", 21).attr("height", barBottom - barTop)
        .attr("fill", "url(#pdfBar)");
      const barNotes = [
        { y: 87, text: "10", sup: "5" },
        { y: 142, text: "10", sup: "3" },
        { y: 197, text: "10" },
        { y: 252, text: "0" },
      ];
      barNotes.forEach((n) => {
        const t = svg.append("text").attr("class", "light").attr("x", 703).attr("y", n.y)
          .attr("fill", "#fff").attr("font-size", 29).text(n.text);
        if (n.sup) t.append("tspan").attr("dy", -11).attr("font-size", 19).text(n.sup);
      });
      svg.append("text").attr("class", "light").attr("x", 662).attr("y", 52).attr("fill", "#fff")
        .attr("font-size", 27).text("PDF");
      svg.append("text").attr("class", "light").attr("x", 673).attr("y", 230).attr("fill", "#fff")
        .attr("font-size", 24).text("~~");

      // ----- axis titles -----
      const titles = [
        { x: 296, y: 480, text: "SW MAC - HW MAC" },
        { x: 296, y: 1778, text: "SW MAC - HW MAC" },
        { x: 296, y: 2264, text: "SW MAC - HW MAC" },
        { x: 1052, y: 480, text: "SW MAC" },
        { x: 1255, y: 1778, text: "SW MAC" },
        { x: 1255, y: 2264, text: "SW MAC" },
      ];
      svg.selectAll(".xTitle").data(titles).join("text").attr("class", "xTitle")
        .attr("x", (d) => d.x).attr("y", (d) => d.y).attr("text-anchor", "middle")
        .attr("font-size", 36.5).attr("fill", "#111").text((d) => d.text);
      const vertical = [
        { x: 36, y: 217, text: "PDF" },
        { x: 36, y: 1110, text: "PDF" },
        { x: 36, y: 2008, text: "PDF" },
        { x: 594, y: 217, text: "HW MAC" },
        { x: 594, y: 1110, text: "HW MAC" },
        { x: 594, y: 2008, text: "HW MAC" },
      ];
      svg.selectAll(".yTitle").data(vertical).join("text").attr("class", "yTitle")
        .attr("transform", (d) => "translate(" + d.x + "," + d.y + ") rotate(-90)")
        .attr("text-anchor", "middle").attr("font-size", 36.5).attr("fill", "#111").text((d) => d.text);

      svg.append("text").attr("x", 0).attr("y", 47).attr("font-size", 50).attr("fill", "#111").text("a");
      svg.append("text").attr("x", 566).attr("y", 47).attr("font-size", 50).attr("fill", "#111").text("b");

      // ----- chip boxes -----
      chips.forEach((c, i) => {
        const g = svg.append("g");
        g.append("rect").attr("x", 1911).attr("y", c.top).attr("width", 212).attr("height", c.bottom - c.top)
          .attr("fill", "#0080ae");
        g.append("rect").attr("x", 1923).attr("y", c.top + 12).attr("width", 188).attr("height", c.bottom - c.top - 24)
          .attr("fill", chipFills[i]);
        const mid = (c.top + c.bottom) / 2;
        g.append("text").attr("class", "light").attr("x", 2017).attr("y", mid - 10).attr("text-anchor", "middle")
          .attr("fill", chipInk[i]).attr("font-size", 44).text("chip");
        g.append("text").attr("class", "light").attr("x", 2017).attr("y", mid + 42).attr("text-anchor", "middle")
          .attr("fill", chipInk[i]).attr("font-size", 44).text(chipNames[i]);
      });
    </script>
  </body>
</html>
